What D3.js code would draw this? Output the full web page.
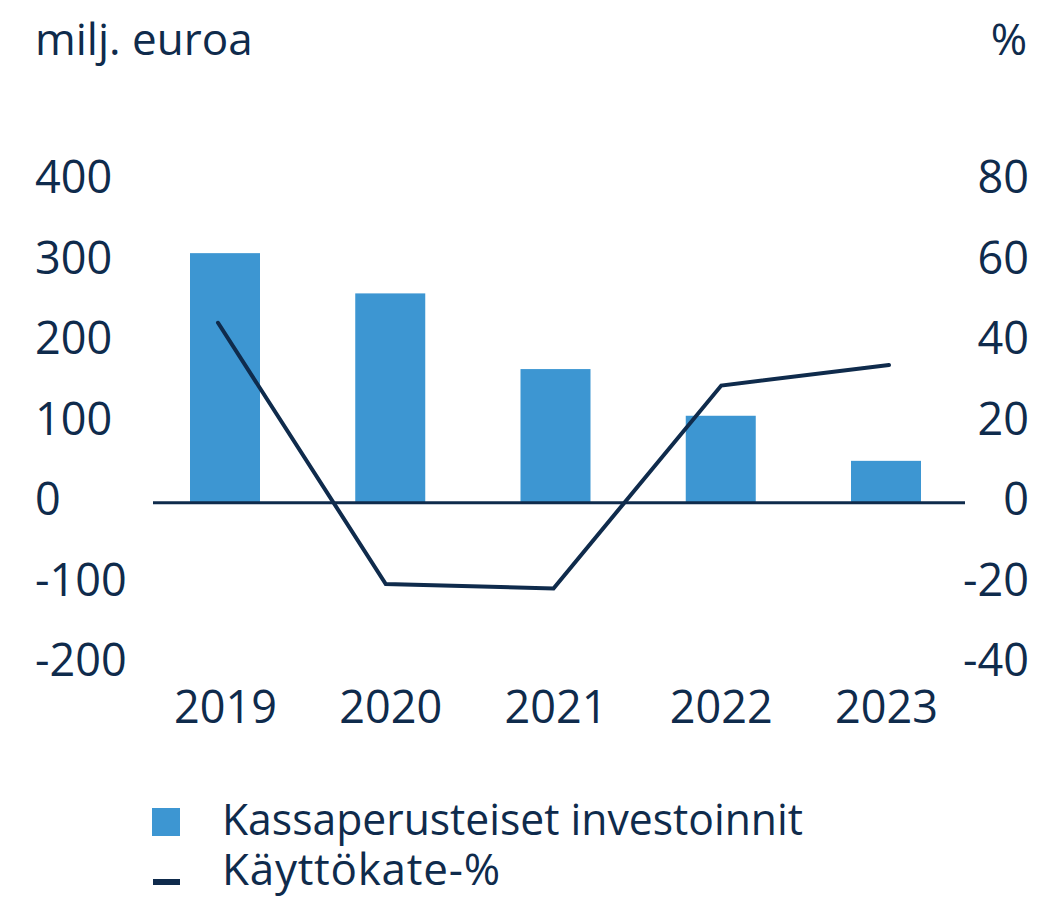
<!DOCTYPE html>
<html>
<head>
<meta charset="utf-8">
<script src="https://cdn.jsdelivr.net/npm/d3@7"></script>
<style>
  body { margin: 0; background: #fff; }
  text { font-family: "Open Sans", sans-serif; fill: #0f2b4c; }
</style>
</head>
<body>
<svg id="chart" width="1039" height="898"></svg>
<script>
// data
const years = ['2019', '2020', '2021', '2022', '2023']
const investments = [310, 260, 166, 108, 52]       // milj. euroa
const marginPct = [44.7, -20.2, -21.3, 29.1, 34.2] // Käyttökate-%
const leftTicks = [-200, -100, 0, 100, 200, 300, 400]
const rightTicks = [-40, -20, 0, 20, 40, 60, 80]

const navy = '#0f2b4c'
const blue = '#3d96d2'

const svg = d3.select('#chart')

const yLeft = d3.scaleLinear().domain([-200, 400]).range([663.7, 180.7])
const yRight = d3.scaleLinear().domain([-40, 80]).range([663.7, 180.7])
const xBar = d3.scalePoint().domain(years).range([225, 886])
const xLine = d3.scalePoint().domain(years).range([218, 889])
const barW = 70

// axis titles
svg.append('text').attr('x', 35).attr('y', 55)
    .attr('font-size', 44).text('milj. euroa')
svg.append('text').attr('x', 1027).attr('y', 55)
    .attr('font-size', 44).attr('text-anchor', 'end').text('%')

function styleLabels(g, anchor) {
    g.select('.domain').remove()
    g.selectAll('text')
        .attr('text-anchor', anchor).attr('dy', 12).attr('x', 0)
        .attr('font-size', 45).attr('fill', navy)
        .style('font-family', '"Open Sans", sans-serif')
}

// left axis labels
svg.append('g').attr('transform', 'translate(35,0)')
    .call(d3.axisLeft(yLeft).tickValues(leftTicks).tickSize(0).tickFormat(d => String(d)))
    .call(g => styleLabels(g, 'start'))

// right axis labels
svg.append('g').attr('transform', 'translate(1029,0)')
    .call(d3.axisRight(yRight).tickValues(rightTicks).tickSize(0).tickFormat(d => String(d)))
    .call(g => styleLabels(g, 'end'))

// bars
svg.selectAll('.bar')
    .data(years)
    .enter()
    .append('rect')
    .attr('class', 'bar')
    .attr('x', d => xBar(d) - barW / 2)
    .attr('width', barW)
    .attr('y', (d, i) => yLeft(Math.max(0, investments[i])))
    .attr('height', (d, i) => Math.abs(yLeft(investments[i]) - yLeft(0)))
    .attr('fill', blue)

// zero line
svg.append('line')
    .attr('x1', 153).attr('x2', 965)
    .attr('y1', yLeft(0)).attr('y2', yLeft(0))
    .attr('stroke', navy).attr('stroke-width', 3)

// year labels
const xAxis = svg.append('g').attr('transform', 'translate(0,723)')
    .call(d3.axisBottom(xBar).tickSize(0).tickPadding(0))
xAxis.select('.domain').remove()
xAxis.selectAll('text')
    .attr('dy', 0).attr('y', 0)
    .attr('font-size', 45).attr('fill', navy)
    .style('font-family', '"Open Sans", sans-serif')

// line
const line = d3.line()
    .x((d, i) => xLine(years[i]))
    .y(d => yRight(d))
svg.append('path')
    .datum(marginPct)
    .attr('d', line)
    .attr('fill', 'none')
    .attr('stroke', navy)
    .attr('stroke-width', 4)
    .attr('stroke-linecap', 'round')
    .attr('stroke-linejoin', 'miter')

// legend
svg.append('rect').attr('x', 152).attr('y', 808).attr('width', 28).attr('height', 28).attr('fill', blue)
svg.append('text').attr('x', 222).attr('y', 835).attr('font-size', 44)
    .attr('textLength', 581).attr('lengthAdjust', 'spacingAndGlyphs')
    .text('Kassaperusteiset investoinnit')
svg.append('rect').attr('x', 153).attr('y', 879).attr('width', 27).attr('height', 6).attr('fill', navy)
svg.append('text').attr('x', 222).attr('y', 885).attr('font-size', 44)
    .attr('textLength', 278).attr('lengthAdjust', 'spacing')
    .text('Käyttökate-%')
</script>
</body>
</html>
